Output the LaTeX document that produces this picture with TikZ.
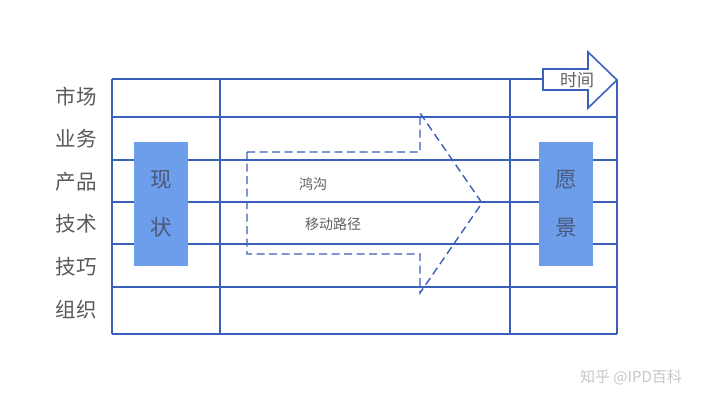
\documentclass[tikz,border=0pt]{standalone}
\usepackage{fontspec}
\setmainfont{Noto Sans CJK SC}
\definecolor{gridblue}{HTML}{3A60BC}
\definecolor{stageblue}{HTML}{6D9EEB}
\definecolor{stagetxt}{HTML}{4A5878}
\begin{document}
\begin{tikzpicture}[x=1pt,y=-1pt,
grid/.style={draw=gridblue,line width=1.6pt},
rowlabel/.style={font=\fontsize{20.5}{20.5}\selectfont,text=black!65},
stage/.style={fill=stageblue,minimum width=54pt,minimum height=124pt,inner sep=0pt,align=center,font=\fontsize{21.5}{48}\selectfont,text=stagetxt},
note/.style={font=\fontsize{14}{14}\selectfont,text=black!62}
]
\fill[white] (0,0) rectangle (720,405);
\useasboundingbox (0,0) rectangle (720,405);
% table
\draw[grid] (112,79) -- (543,79);
\draw[grid] (112,117) -- (617,117);
\draw[grid] (112,160) -- (617,160);
\draw[grid] (112,202) -- (617,202);
\draw[grid] (112,244) -- (617,244);
\draw[grid] (112,287) -- (617,287);
\draw[grid] (112,334) -- (617,334);
\draw[grid] (112,79) -- (112,334);
\draw[grid] (220,79) -- (220,334);
\draw[grid] (510,79) -- (510,334);
\draw[grid] (617,80) -- (617,334);
% time arrow
\draw[grid,fill=white,line join=miter] (543,69) -- (588,69) -- (588,52) -- (617,80) -- (588,108) -- (588,90) -- (543,90) -- cycle;
\node[note,font=\fontsize{17}{17}\selectfont] (time) at (577,80) {时间};
% row labels
\node[rowlabel] (market) at (76,97) {市场};
\node[rowlabel] (business) at (76,139) {业务};
\node[rowlabel] (product) at (76,182) {产品};
\node[rowlabel] (tech) at (76,224) {技术};
\node[rowlabel] (skill) at (76,267) {技巧};
\node[rowlabel] (org) at (76,310) {组织};
% current state and vision
\node[stage] (current) at (161,204) {现\\状};
\node[stage] (vision) at (566,204) {愿\\景};
% gap arrow
\draw[draw=gridblue,line width=1.4pt,dash pattern=on 8pt off 4.5pt] (247,152) -- (420,152) -- (420,113) -- (482,203) -- (420,293) -- (420,254) -- (247,254) -- cycle;
\node[note] (gap) at (313,184) {鸿沟};
\node[note] (path) at (333,224) {移动路径};
% watermark
\node[font=\fontsize{15}{15}\selectfont,text=black!22] (mark) at (631,377) {知乎 @IPD百科};
\end{tikzpicture}
\end{document}
